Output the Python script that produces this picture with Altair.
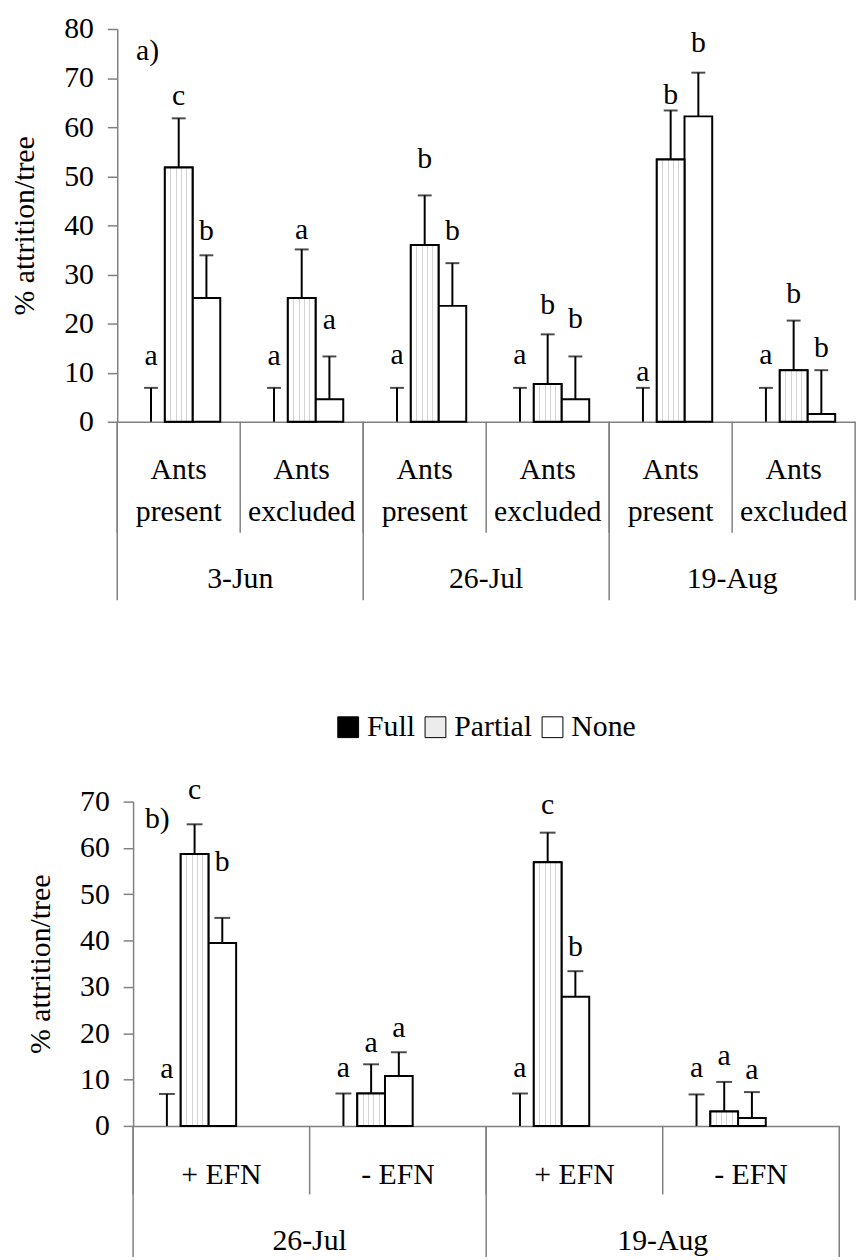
import altair as alt
import pandas as pd

FONT = "Liberation Serif, Tinos, Times New Roman, Times, Nimbus Roman, DejaVu Serif, Noto Serif, serif"
FS = 30
GRAY = "#808080"
types = ["Full", "Partial", "None"]

# ---------------- panel a) data ----------------
a_dates = ["3-Jun", "26-Jul", "19-Aug"]
a_treats = ["Ants\npresent", "Ants\nexcluded"]
a_full = [0, 0, 0, 0, 0, 0]
a_full_err = [6.9, 6.9, 6.9, 6.9, 6.9, 6.9]
a_partial = [51.8, 25.2, 36.0, 7.7, 53.4, 10.5]
a_partial_err = [61.8, 35.1, 46.1, 17.8, 63.4, 20.6]
a_none = [25.2, 4.6, 23.6, 4.6, 62.2, 1.6]
a_none_err = [33.9, 13.3, 32.3, 13.3, 71.1, 10.5]
a_full_let = ["a", "a", "a", "a", "a", "a"]
a_partial_let = ["c", "a", "b", "b", "b", "b"]
a_none_let = ["b", "a", "b", "b", "b", "b"]
a_full_ly = [11.5, 11.5, 11.7, 11.7, 8.3, 11.7]
a_partial_ly = [64.5, 37.2, 51.6, 22.0, 64.8, 24.1]
a_none_ly = [37.0, 18.8, 37.0, 19.0, 75.3, 13.1]
a_yticks = [0, 10, 20, 30, 40, 50, 60, 70, 80]

# ---------------- panel b) data ----------------
b_dates = ["26-Jul", "19-Aug"]
b_treats = ["+ EFN", "- EFN"]
b_full = [0, 0, 0, 0]
b_full_err = [6.9, 7.0, 7.0, 6.8]
b_partial = [58.7, 7.0, 56.9, 3.1]
b_partial_err = [65.1, 13.3, 63.3, 9.5]
b_none = [39.5, 10.8, 27.9, 1.7]
b_none_err = [44.9, 15.9, 33.4, 7.3]
b_full_let = ["a", "a", "a", "a"]
b_partial_let = ["c", "a", "c", "a"]
b_none_let = ["b", "a", "b", "a"]
b_full_ly = [10.3, 10.5, 10.5, 10.5]
b_partial_ly = [70.5, 16.0, 67.3, 13.2]
b_none_ly = [55.1, 19.1, 36.6, 10.2]
b_yticks = [0, 10, 20, 30, 40, 50, 60, 70]


def build(dates, treats, vals, errs, lets, lys):
    rows, cats, i = [], [], 0
    crow = []
    for d in dates:
        for j, t in enumerate(treats):
            c = f"{d}|{t}"
            cats.append(c)
            crow.append(dict(cat=c, date=d, label=t, first=(j == 0), second=(j == 1)))
            for k, ty in enumerate(types):
                rows.append(dict(cat=c, type=ty, value=vals[k][i], err=errs[k][i],
                                 letter=lets[k][i], ly=lys[k][i]))
            i += 1
    crow[-1]["last"] = True
    for r in crow:
        r.setdefault("last", False)
    return pd.DataFrame(rows), pd.DataFrame(crow), cats


stripes = {"gradient": "linear", "x1": 0, "x2": 1, "y1": 0, "y2": 0,
           "stops": [{"offset": 0, "color": "white"}]}
for c in [0.22, 0.41, 0.60, 0.79]:
    stripes["stops"] += [{"offset": c - 0.018, "color": "white"},
                         {"offset": c - 0.018, "color": "#d4d4d4"},
                         {"offset": c + 0.018, "color": "#d4d4d4"},
                         {"offset": c + 0.018, "color": "white"}]
stripes["stops"].append({"offset": 1, "color": "white"})

legend = alt.Legend(orient="none", legendX=218, legendY=689, direction="horizontal",
                    title=None, symbolType="square", symbolSize=440,
                    symbolStrokeColor="black", symbolStrokeWidth=1,
                    labelFont=FONT, labelFontSize=FS, labelColor="black",
                    labelOffset=4, columnPadding=5, gridAlign="none")

YAXIS = dict(title="% attrition/tree", grid=False,
             tickSize=10, tickColor=GRAY, tickWidth=1.5,
             domainColor=GRAY, domainWidth=1.5,
             labelPadding=14, titlePadding=24)


def panel(df, cdf, cats, W, H, ymax, yvals, po, cap, lab_y, date_y, t_short, t_long, tag, tag_x, tag_y):
    def xenc(**kw):
        return alt.X("cat:N", sort=cats,
                     scale=alt.Scale(domain=cats, paddingInner=0, paddingOuter=0),
                     axis=alt.Axis(labels=False, ticks=False, title=None,
                                   domainColor=GRAY, domainWidth=1.5), **kw)
    yaxis = alt.Axis(values=yvals, **YAXIS)
    xoff = alt.XOffset("type:N", sort=types,
                       scale=alt.Scale(domain=types, paddingInner=0, paddingOuter=po))
    yscale = alt.Scale(domain=[0, ymax], nice=False)

    def yenc(f):
        return alt.Y(f, scale=yscale, axis=yaxis, title="% attrition/tree")
    base = alt.Chart(df)
    bars = base.transform_filter("datum.type != 'Full'").mark_bar(
        stroke="black", strokeWidth=2).encode(
        x=xenc(), xOffset=xoff, y=yenc("value:Q"),
        fill=alt.Fill("type:N", scale=alt.Scale(domain=types, range=["black", "#ececec", "white"]),
                      legend=legend))
    partial = base.transform_filter("datum.type == 'Partial'").mark_bar(
        fill=stripes, stroke="black", strokeWidth=2).encode(
        x=xenc(), xOffset=xoff, y=yenc("value:Q"))
    rules = base.mark_rule(color="black", strokeWidth=2).encode(
        x=xenc(), xOffset=xoff, y=yenc("value:Q"), y2="err:Q")
    caps = base.mark_tick(color="black", thickness=2, size=cap).encode(
        x=xenc(), xOffset=xoff, y=yenc("err:Q"))
    letters = base.mark_text(font=FONT, fontSize=FS, baseline="alphabetic", color="black").encode(
        x=xenc(), xOffset=xoff, y=yenc("ly:Q"), text="letter:N")
    cb = alt.Chart(cdf)
    short = cb.mark_rule(color=GRAY, strokeWidth=1.5).encode(
        x=xenc(bandPosition=0), y=alt.value(H), y2=alt.value(H + t_short))
    long_ = cb.transform_filter("datum.first").mark_rule(color=GRAY, strokeWidth=1.5).encode(
        x=xenc(bandPosition=0), y=alt.value(H), y2=alt.value(H + t_long))
    end = cb.transform_filter("datum.last").mark_rule(color=GRAY, strokeWidth=1.5).encode(
        x=xenc(bandPosition=1), y=alt.value(H), y2=alt.value(H + t_long))
    lab1 = cb.mark_text(font=FONT, fontSize=FS, lineBreak="\n", lineHeight=42,
                        baseline="middle", color="black").encode(
        x=xenc(), y=alt.value(lab_y), text="label:N")
    lab2 = cb.transform_filter("datum.second").mark_text(
        font=FONT, fontSize=FS, baseline="middle", color="black").encode(
        x=xenc(bandPosition=0), y=alt.value(date_y), text="date:N")
    tagc = alt.Chart(pd.DataFrame({"t": [tag]})).mark_text(
        font=FONT, fontSize=FS, align="left", baseline="middle", color="black").encode(
        x=alt.value(tag_x), y=alt.value(tag_y), text="t:N")
    return alt.layer(bars, partial, rules, caps, letters, short, long_, end, lab1, lab2, tagc).properties(
        width=W, height=H)


dfa, cda, cats_a = build(a_dates, a_treats,
                         [a_full, a_partial, a_none], [a_full_err, a_partial_err, a_none_err],
                         [a_full_let, a_partial_let, a_none_let], [a_full_ly, a_partial_ly, a_none_ly])
dfb, cdb, cats_b = build(b_dates, b_treats,
                         [b_full, b_partial, b_none], [b_full_err, b_partial_err, b_none_err],
                         [b_full_let, b_partial_let, b_none_let], [b_full_ly, b_partial_ly, b_none_ly])

HA, HB = 396, 327
pa = panel(dfa, cda, cats_a, 744, HA, 80, a_yticks, 0.72, 14, HA + 49, HA + 159, 112, 180, "a)", 19, 22)
pb = panel(dfb, cdb, cats_b, 712, HB, 70, b_yticks, 0.81, 16, HB + 50, HB + 116, 69, 140, "b)", 12, 18)

chart = alt.vconcat(pa, pb, spacing=175, center=True).properties(
    padding={"left": 2, "top": 1, "right": 0, "bottom": -14}
).configure_view(stroke=None).configure_axis(
    labelFont=FONT, titleFont=FONT, labelFontSize=FS, titleFontSize=FS,
    titleFontWeight="normal", labelColor="black", titleColor="black"
)

chart.save("out.html", embed_options={"renderer": "svg", "actions": False})
